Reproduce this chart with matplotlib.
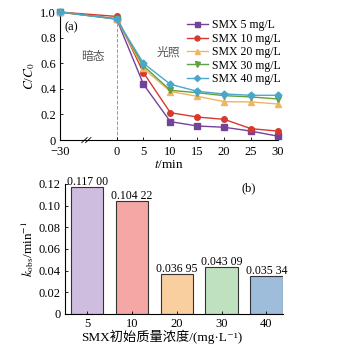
import numpy as np
import matplotlib
matplotlib.use('Agg')
import matplotlib.pyplot as plt

plt.rcParams['font.family'] = ['Liberation Serif', 'Noto Sans CJK SC', 'DejaVu Serif']
plt.rcParams['font.size'] = 9
plt.rcParams['mathtext.fontset'] = 'stix'

# degradation curves, C/C0 vs time
times = [-30, 0, 5, 10, 15, 20, 25, 30]
tick_labels = ['\u221230', '0', '5', '10', '15', '20', '25', '30']
smx_5 = [1.0, 0.948, 0.436, 0.144, 0.11, 0.10, 0.07, 0.03]
smx_10 = [1.0, 0.966, 0.527, 0.214, 0.18, 0.162, 0.089, 0.07]
smx_20 = [1.0, 0.945, 0.56, 0.379, 0.342, 0.30, 0.298, 0.282]
smx_30 = [1.0, 0.945, 0.58, 0.389, 0.37, 0.347, 0.337, 0.321]
smx_40 = [1.0, 0.945, 0.60, 0.436, 0.381, 0.36, 0.35, 0.35]
series_names = ['SMX 5 mg/L', 'SMX 10 mg/L', 'SMX 20 mg/L', 'SMX 30 mg/L', 'SMX 40 mg/L']

# rate constants
conc_labels = ['5', '10', '20', '30', '40']
k_obs = [0.11700, 0.10422, 0.03695, 0.04309, 0.03534]
k_text = ['0.117 00', '0.104 22', '0.036 95', '0.043 09', '0.035 34']

line_colors = ['#73439a', '#d63a2f', '#f0b462', '#5fa043', '#4ba6cc']
markers = ['s', 'o', '^', 'v', 'D']
bar_colors = ['#cfbddf', '#f4a7a4', '#f9cf9f', '#c0e1c0', '#9dbdda']


def squeeze(t):
    # the dark period (-30..0) is drawn compressed
    t = np.asarray(t, dtype=float)
    return np.where(t < 0, t * 10.5 / 30, t)


fig = plt.figure(figsize=(3.39, 3.45), dpi=100)

ax1 = fig.add_axes([0.177, 0.594, 0.643, 0.371])
xs = squeeze(times)
for vals, name, c, m in zip([smx_5, smx_10, smx_20, smx_30, smx_40], series_names, line_colors, markers):
    ax1.plot(xs, vals, color=c, marker=m, markersize=4 if m != 'D' else 3.5,
             linewidth=1.0, label=name, clip_on=False, zorder=3)
ax1.axvline(0, ymin=0, ymax=0.95, color='#999999', linestyle='--', linewidth=0.7, zorder=1)
ax1.set_xlim(squeeze(-30), 30)
ax1.set_ylim(0, 1.0)
ax1.set_xticks(xs)
ax1.set_xticklabels(tick_labels)
ax1.set_yticks([0, 0.2, 0.4, 0.6, 0.8, 1.0])
ax1.set_yticklabels(['0', '0.2', '0.4', '0.6', '0.8', '1.0'])
ax1.spines['top'].set_visible(False)
ax1.spines['right'].set_visible(False)
ax1.tick_params(direction='in', length=2.5, width=0.6, pad=3)
ax1.tick_params(axis='x', pad=4)
ax1.set_xlabel('$t$/min', labelpad=1, fontsize=9.5)
ax1.set_ylabel('$C$/$C_0$', labelpad=2, fontsize=9.5)
ax1.text(0.02, 0.86, '(a)', transform=ax1.transAxes, fontsize=9)
ax1.text(-6.5, 0.65, '暗态', color='#555555', fontsize=8.5, va='center')
ax1.text(7.4, 0.68, '光照', color='#555555', fontsize=8.5, va='center')
# axis break mark
for dx in (-0.35, 0.35):
    ax1.plot([-5.6 + dx - 0.5, -5.6 + dx + 0.5], [-0.02, 0.02], color='black',
             linewidth=0.6, clip_on=False)
ax1.legend(loc='upper left', bbox_to_anchor=(0.56, 0.98), frameon=False,
           handlelength=1.8, handletextpad=0.3, labelspacing=0.12, fontsize=8.5,
           borderaxespad=0.0, markerscale=0.9)

ax2 = fig.add_axes([0.192, 0.09, 0.643, 0.377])
pos = np.arange(len(conc_labels))
bars = ax2.bar(pos, k_obs, width=0.72, color=bar_colors, edgecolor='#333333', linewidth=0.8)
for b, txt in zip(bars, k_text):
    ax2.text(b.get_x() + b.get_width() / 2, b.get_height() - 0.0008, txt,
             ha='center', va='bottom', fontsize=8.5)
ax2.set_xlim(-0.49, 4.37)
ax2.set_ylim(0, 0.12)
ax2.set_xticks(pos)
ax2.set_xticklabels(conc_labels)
ax2.set_yticks([0, 0.02, 0.04, 0.06, 0.08, 0.10, 0.12])
ax2.set_yticklabels(['0', '0.02', '0.04', '0.06', '0.08', '0.10', '0.12'])
ax2.spines['top'].set_visible(False)
ax2.spines['right'].set_visible(False)
ax2.tick_params(direction='in', length=2.5, width=0.6, pad=3)
ax2.set_xlabel('SMX初始质量浓度/(mg\u00b7L\u207b\u00b9)', fontsize=9.5)
ax2.xaxis.set_label_coords(0.445, -0.12)
ax2.set_ylabel('$k_{\\mathrm{obs}}$/min$^{-1}$', labelpad=2, fontsize=9.5)
ax2.text(0.84, 0.97, '(b)', transform=ax2.transAxes, fontsize=9, va='center', ha='center')

fig.savefig('out.png', dpi=100)
